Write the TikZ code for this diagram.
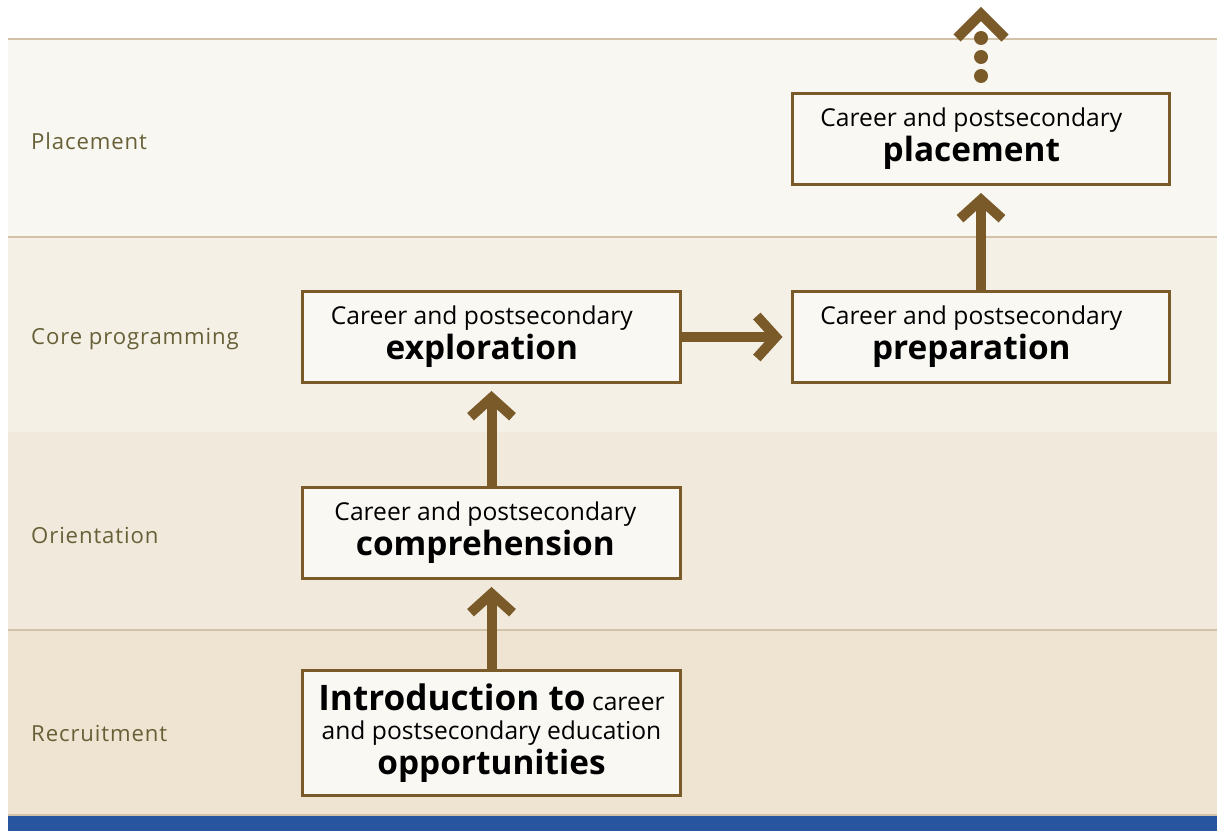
\documentclass[tikz,border=0pt]{standalone}
\usepackage{fontspec}
\setmainfont{Open Sans}
\newfontfamily\stagefont[LetterSpace=4]{Open Sans}
\usepackage{tikz}
\usetikzlibrary{arrows.meta}

\definecolor{barkbrown}{HTML}{795A28}
\definecolor{boxfill}{HTML}{FAF8F3}
\definecolor{bandplace}{HTML}{F9F7F2}
\definecolor{bandcore}{HTML}{F5F0E6}
\definecolor{bandorient}{HTML}{F1E9DB}
\definecolor{bandrecruit}{HTML}{EFE3D1}
\definecolor{bandline}{HTML}{D2C3A8}
\definecolor{stageolive}{HTML}{676037}
\definecolor{footblue}{HTML}{2755A0}

\begin{document}
\begin{tikzpicture}[x=0.02cm, y=-0.02cm,
  stepbox/.style={draw=barkbrown, line width=0.06cm, fill=boxfill,
    minimum width=7.56cm, minimum height=1.82cm, align=center,
    inner sep=0pt, font=\fontsize{14}{17.6}\selectfont},
  stage/.style={anchor=west, text=stageolive, font=\stagefont\fontsize{12.6}{14}\selectfont},
  flow/.style={draw=barkbrown, line width=0.2cm,
    -{Straight Barb[length=0.38cm,width=0.84cm]}},
  sep/.style={draw=bandline, line width=0.04cm}]

  \useasboundingbox (0,0) rectangle (1217,831);
  \fill[white] (0,0) rectangle (1217,831);

  \fill[bandplace]   (8,39)  rectangle (1217,237);
  \fill[bandcore]    (8,237) rectangle (1217,432);
  \fill[bandorient]  (8,432) rectangle (1217,630);
  \fill[bandrecruit] (8,630) rectangle (1217,815);
  \fill[footblue]    (8,815) rectangle (1217,831);
  \draw[sep] (8,39)  -- (1217,39);
  \draw[sep] (8,237) -- (1217,237);
  \draw[sep] (8,630) -- (1217,630);
  \draw[sep] (8,815) -- (1217,815);

  \node[stage] (lplace)   at (25,141) {Placement};
  \node[stage] (lcore)    at (25,339) {Core programming};
  \node[stage] (lorient)  at (25,535) {Orientation};
  \node[stage] (lrecruit) at (25,733) {Recruitment};

  \node[stepbox] (placement) at (981,139)
    {Career and postsecondary\hspace*{11pt}\\[1pt]{\bfseries\fontsize{19}{19}\selectfont placement}\hspace*{11pt}};
  \node[stepbox] (preparation) at (981,337)
    {Career and postsecondary\hspace*{11pt}\\[1pt]{\bfseries\fontsize{19}{19}\selectfont preparation}\hspace*{11pt}};
  \node[stepbox] (exploration) at (491.5,337)
    {Career and postsecondary\hspace*{11pt}\\[1pt]{\bfseries\fontsize{19}{19}\selectfont exploration}\hspace*{11pt}};
  \node[stepbox] (comprehension) at (491.5,533)
    {Career and postsecondary\hspace*{7pt}\\[1pt]{\bfseries\fontsize{19}{19}\selectfont comprehension}\hspace*{7pt}};
  \node[stepbox, minimum height=2.5cm] (intro) at (491.5,733)
    {{\bfseries\fontsize{20}{20}\selectfont Introduction to} career\\[-1pt]
     and postsecondary education\\[1pt]{\bfseries\fontsize{19}{19}\selectfont opportunities}};

  \coordinate (beyond) at (981,14);

  \path
    (intro)         edge [flow, shorten >=0.14cm] (comprehension)
    (comprehension) edge [flow, shorten >=0.14cm] (exploration)
    (exploration)   edge [flow, shorten >=0.16cm] (preparation)
    (preparation)   edge [flow, shorten >=0.14cm] (placement)
  ;

  \draw[barkbrown, line width=0.2cm] (957,38) -- (beyond) -- (1005,38);
  \foreach \y in {38,57,76}
    \fill[barkbrown] (981,\y) circle (0.14cm);

\end{tikzpicture}
\end{document}
